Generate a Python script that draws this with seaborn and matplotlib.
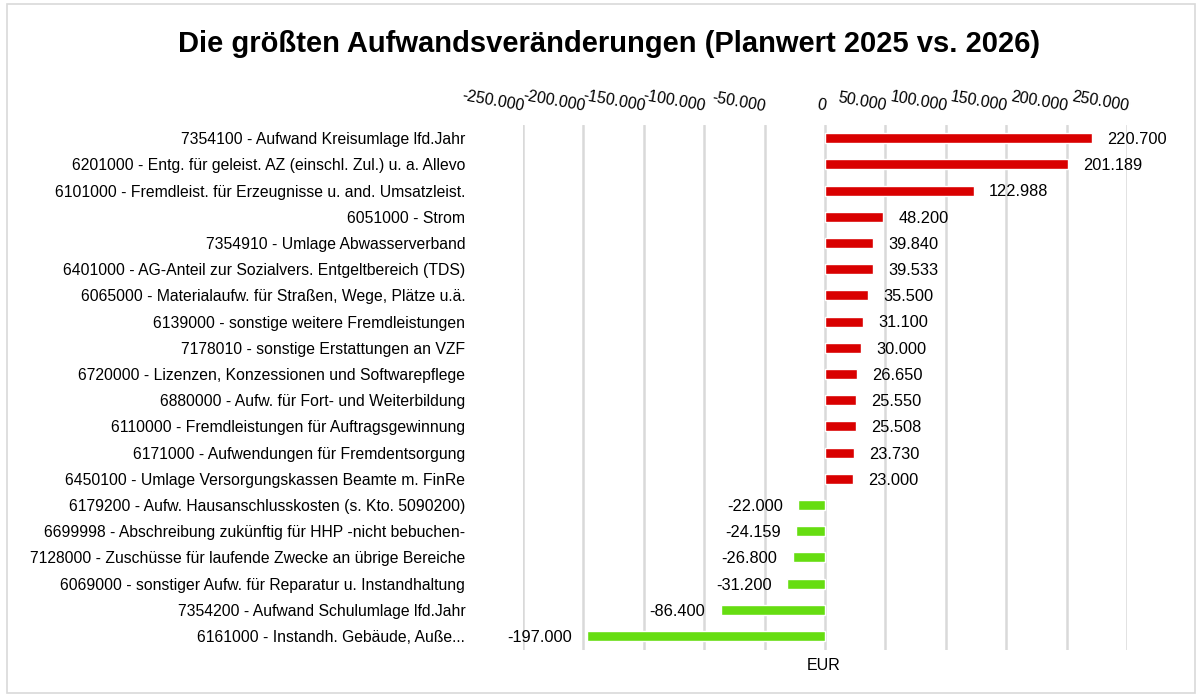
import matplotlib
matplotlib.use("Agg")
import matplotlib.pyplot as plt
import seaborn as sns
import pandas as pd
import numpy as np
from matplotlib.ticker import FuncFormatter

categories = [
    "7354100 - Aufwand Kreisumlage lfd.Jahr",
    "6201000 - Entg. für geleist. AZ (einschl. Zul.) u. a. Allevo",
    "6101000 - Fremdleist. für Erzeugnisse u. and. Umsatzleist.",
    "6051000 - Strom",
    "7354910 - Umlage Abwasserverband",
    "6401000 - AG-Anteil zur Sozialvers. Entgeltbereich (TDS)",
    "6065000 - Materialaufw. für Straßen, Wege, Plätze u.ä.",
    "6139000 - sonstige weitere Fremdleistungen",
    "7178010 - sonstige Erstattungen an VZF",
    "6720000 - Lizenzen, Konzessionen und Softwarepflege",
    "6880000 - Aufw. für Fort- und Weiterbildung",
    "6110000 - Fremdleistungen für Auftragsgewinnung",
    "6171000 - Aufwendungen für Fremdentsorgung",
    "6450100 - Umlage Versorgungskassen Beamte m. FinRe",
    "6179200 - Aufw. Hausanschlusskosten (s. Kto. 5090200)",
    "6699998 - Abschreibung zukünftig für HHP -nicht bebuchen-",
    "7128000 - Zuschüsse für laufende Zwecke an übrige Bereiche",
    "6069000 - sonstiger Aufw. für Reparatur u. Instandhaltung",
    "7354200 - Aufwand Schulumlage lfd.Jahr",
    "6161000 - Instandh. Gebäude, Auße...",
]
values = [220700, 201189, 122988, 48200, 39840, 39533, 35500, 31100, 30000,
          26650, 25550, 25508, 23730, 23000, -22000, -24159, -26800, -31200,
          -86400, -197000]
tick_values = [-250000, -200000, -150000, -100000, -50000, 0,
               50000, 100000, 150000, 200000, 250000]

RED = "#D90000"
GREEN = "#66DD11"

def de_fmt(v):
    s = f"{abs(v):,.0f}".replace(",", ".")
    return ("-" if v < 0 else "") + s

df = pd.DataFrame({"cat": categories, "val": values})
df["sign"] = np.where(df["val"] >= 0, "pos", "neg")

sns.set_theme(style="white")
plt.rcParams["font.family"] = ["Liberation Sans", "DejaVu Sans"]
plt.rcParams["text.color"] = "black"
plt.rcParams["xtick.color"] = "black"
plt.rcParams["ytick.color"] = "black"

fig = plt.figure(figsize=(12.03, 7.0), dpi=100)
ax = fig.add_axes([523/1203, 1 - 650/700, 604/1203, 525/700])

sns.barplot(data=df, y="cat", x="val", hue="sign",
            palette={"pos": RED, "neg": GREEN}, dodge=False,
            width=0.38, orient="h", legend=False, ax=ax, zorder=3,
            saturation=1)

ax.set_xlim(-250000, 250000)
ax.set_ylim(len(categories) - 0.47, -0.5)
ax.set_xticks(tick_values)
ax.xaxis.set_major_formatter(FuncFormatter(lambda v, p: de_fmt(v)))
ax.xaxis.tick_top()
ax.tick_params(axis="x", length=0, pad=8, labelsize=11.5, labelcolor="black")
for lab in ax.get_xticklabels():
    lab.set_rotation(-10)
    lab.set_ha("right")
    lab.set_va("bottom")
    lab.set_rotation_mode("anchor")
ax.tick_params(axis="y", length=0, pad=41.5, labelsize=11.3, labelcolor="black")
ax.grid(axis="x", color="#D9D9D9", linewidth=1.8, zorder=0)
ax.grid(axis="y", visible=False)
for s in ax.spines.values():
    s.set_visible(False)
ax.set_ylabel("")
ax.set_xlabel("")

for i, v in enumerate(values):
    if v >= 0:
        ax.annotate(de_fmt(v), (v, i), xytext=(11, -1), textcoords="offset points",
                    ha="left", va="center", fontsize=11.8, color="black")
    else:
        ax.annotate(de_fmt(v), (v, i), xytext=(-11, -1), textcoords="offset points",
                    ha="right", va="center", fontsize=11.8, color="black")

fig.text(824/1203, 1 - 665/700, "EUR", ha="center", va="center", fontsize=11.5, color="black")
fig.text(609/1203, 1 - 44/700, "Die größten Aufwandsveränderungen (Planwert 2025 vs. 2026)",
         ha="center", va="center", fontsize=21, fontweight="bold", color="black")

border = plt.Rectangle((7/1203, 1 - 693/700), 1188/1203, 689/700, transform=fig.transFigure,
                       fill=False, edgecolor="#D9D9D9", linewidth=1.2)
fig.patches.append(border)

fig.savefig("out.png", dpi=100, facecolor="white")
